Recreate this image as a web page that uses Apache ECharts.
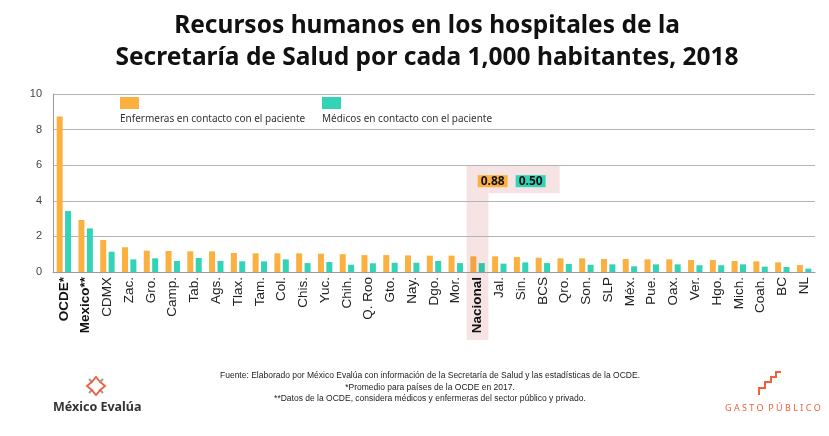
<!DOCTYPE html>
<html>
<head>
<meta charset="utf-8">
<script src="https://cdn.jsdelivr.net/npm/echarts@6/dist/echarts.min.js"></script>
<style>
  html, body { margin: 0; padding: 0; background: #fff; }
  #chart { width: 829px; height: 436px; }
</style>
</head>
<body>
<div id="chart"></div>
<script>
// datos
const categories = [
  "OCDE*", "Mexico**", "CDMX", "Zac.", "Gro.", "Camp.", "Tab.", "Ags.", "Tlax.", "Tam.",
  "Col.", "Chis.", "Yuc.", "Chih.", "Q. Roo", "Gto.", "Nay.", "Dgo.", "Mor.", "Nacional",
  "Jal.", "Sin.", "BCS", "Qro.", "Son.", "SLP", "Méx.", "Pue.", "Oax.", "Ver.",
  "Hgo.", "Mich.", "Coah.", "BC", "NL"
]
const enfermeras = [
  8.73, 2.92, 1.80, 1.39, 1.20, 1.18, 1.16, 1.16, 1.07, 1.05,
  1.05, 1.05, 1.03, 1.00, 0.95, 0.95, 0.93, 0.92, 0.92, 0.88,
  0.88, 0.84, 0.80, 0.77, 0.77, 0.73, 0.73, 0.71, 0.71, 0.67,
  0.67, 0.62, 0.60, 0.54, 0.39
]
const medicos = [
  3.43, 2.45, 1.14, 0.71, 0.77, 0.62, 0.79, 0.62, 0.60, 0.60,
  0.71, 0.50, 0.56, 0.41, 0.49, 0.52, 0.52, 0.62, 0.50, 0.50,
  0.47, 0.54, 0.50, 0.45, 0.41, 0.43, 0.32, 0.43, 0.43, 0.38,
  0.38, 0.43, 0.30, 0.28, 0.19
]
const boldCats = ["OCDE*", "Mexico**", "Nacional"]
const highlight = "Nacional"
const seriesNames = ["Enfermeras en contacto con el paciente", "Médicos en contacto con el paciente"]

const ORANGE = "#FCB040"
const TEAL = "#33D3B5"
const PINK = "#F6E4E4"
const RED = "#F0603C"

const chart = echarts.init(document.getElementById("chart"))

const hiIdx = categories.indexOf(highlight)
const nurseData = enfermeras.map((v, i) => i === hiIdx ? { value: v, itemStyle: { color: "#F3A43E" } } : v)
const docData = medicos.map((v, i) => i === hiIdx ? { value: v, itemStyle: { color: "#30C4A8" } } : v)

chart.setOption({
  animation: false,
  title: {
    text: "Recursos humanos en los hospitales de la\nSecretaría de Salud por cada 1,000 habitantes, 2018",
    left: 422,
    top: 5,
    textAlign: "center",
    textStyle: {
      fontFamily: "Noto Sans",
      fontWeight: "bold",
      fontSize: 24.5,
      lineHeight: 32,
      color: "#111"
    }
  },
  legend: [
    { data: [seriesNames[0]], left: 115, top: 92, itemWidth: 19, itemHeight: 12, icon: "rect", formatter: () => "", selectedMode: false },
    { data: [seriesNames[1]], left: 317, top: 92, itemWidth: 19, itemHeight: 12, icon: "rect", formatter: () => "", selectedMode: false }
  ],
  grid: { left: 53, right: 14, top: 94, bottom: 164 },
  xAxis: {
    type: "category",
    data: categories,
    axisLine: { lineStyle: { color: "#9a9a9a" } },
    axisTick: { inside: true, length: 3, lineStyle: { color: "#888" } },
    axisLabel: {
      interval: 0,
      rotate: 90,
      margin: 5,
      fontFamily: "Liberation Sans",
      fontSize: 13.5,
      color: "#222",
      formatter: (v) => boldCats.includes(v) ? "{b|" + v + "}" : v,
      rich: { b: { fontFamily: "Liberation Sans", fontSize: 13.5, fontWeight: "bold", color: "#111" } }
    }
  },
  yAxis: {
    type: "value",
    min: 0,
    max: 10,
    interval: 2,
    axisLine: { show: true, lineStyle: { color: "#9a9a9a" } },
    axisTick: { show: false },
    splitLine: { lineStyle: { color: "#b4b4b4" } },
    axisLabel: { margin: 11, fontFamily: "Liberation Sans", fontSize: 11, color: "#444" }
  },
  series: [
    { name: seriesNames[0], type: "bar", data: nurseData, barWidth: 6, barGap: "40%", itemStyle: { color: ORANGE }, z: 3 },
    { name: seriesNames[1], type: "bar", data: docData, barWidth: 6, itemStyle: { color: TEAL }, z: 3 }
  ]
})

// posiciones de la banda resaltada y textos extra
const catW = chart.getModel().getComponent("xAxis").axis.getBandWidth()
const cx = chart.convertToPixel({ xAxisIndex: 0 }, highlight)
const y6 = chart.convertToPixel({ yAxisIndex: 0 }, 6)
const bandL = cx - catW / 2

const starPts = (cxs, cys, r) => {
  const out = []
  for (let k = 0; k < 4; k++) {
    const a = k * Math.PI / 2
    const ca = Math.cos(a), sa = Math.sin(a)
    const p = (u, v) => [cxs + u * ca - v * sa, cys + u * sa + v * ca]
    out.push({ type: "polyline", shape: { points: [p(r * 0.35, -r * 0.55), p(r, 0), p(r * 0.35, r * 0.55)] }, style: { stroke: RED, lineWidth: 1.8, fill: null } })
    const b = a + Math.PI / 4
    const cb = Math.cos(b), sb = Math.sin(b)
    out.push({ type: "line", shape: { x1: cxs + r * 0.6 * cb, y1: cys + r * 0.6 * sb, x2: cxs + r * 1.1 * cb, y2: cys + r * 1.1 * sb }, style: { stroke: "#9a9a9a", lineWidth: 2 } })
  }
  return out
}

chart.setOption({
  graphic: [
    { type: "rect", z: -1, silent: true, shape: { x: bandL, y: y6, width: catW, height: 340 - y6 }, style: { fill: PINK } },
    { type: "rect", z: -1, silent: true, shape: { x: bandL + catW, y: y6, width: 93 - catW, height: 28 }, style: { fill: PINK } },
    {
      type: "text", z: 10, left: bandL + 11, top: y6 + 10,
      style: { text: enfermeras[hiIdx].toFixed(2), font: "bold 12px 'Noto Sans'", fill: "#111", backgroundColor: ORANGE, padding: [0, 3, 0, 3] }
    },
    {
      type: "text", z: 10, left: bandL + 49, top: y6 + 10,
      style: { text: medicos[hiIdx].toFixed(2), font: "bold 12px 'Noto Sans'", fill: "#111", backgroundColor: TEAL, padding: [0, 3, 0, 3] }
    },
    { type: "text", left: 120, top: 114, style: { text: seriesNames[0], font: "10px 'Noto Sans'", fill: "#333" } },
    { type: "text", left: 322, top: 114, style: { text: seriesNames[1], font: "10px 'Noto Sans'", fill: "#333" } },
    {
      type: "text", x: 430, y: 370,
      style: {
        text: "Fuente: Elaborado por México Evalúa con información de la Secretaría de Salud y las estadísticas de la OCDE.\n*Promedio para países de la OCDE en 2017.\n**Datos de la OCDE, considera médicos y enfermeras del sector público y privado.",
        font: "8.5px 'Liberation Sans'", fill: "#222", align: "center", lineHeight: 11.5
      }
    },
    { type: "group", children: starPts(96, 386, 9) },
    { type: "text", left: 53, top: 401, style: { text: "México Evalúa", font: "bold 12.5px 'Noto Sans'", fill: "#333" } },
    {
      type: "polyline",
      shape: { points: [[759, 395], [759, 388], [765, 388], [765, 382], [771, 382], [771, 377], [776, 377], [776, 372], [781, 372]] },
      style: { stroke: RED, lineWidth: 2, fill: null }
    },
    { type: "text", left: 725, top: 404, style: { text: "G A S T O  P Ú B L I C O", font: "9px 'Noto Sans'", fill: RED } }
  ]
})
</script>
</body>
</html>
